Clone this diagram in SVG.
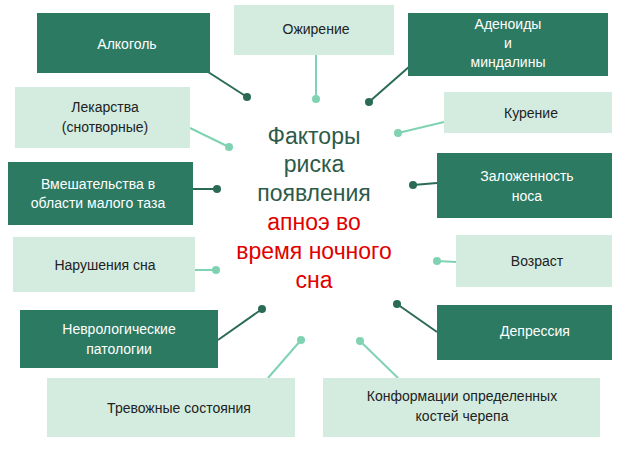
<svg xmlns="http://www.w3.org/2000/svg" width="628" height="449" viewBox="0 0 628 449">
<style>
.d{fill:#2c7a62}.l{fill:#d3ecdf}
.tw{fill:#fff;font-family:"Liberation Sans",sans-serif;font-size:14px;text-anchor:middle}
.tk{fill:#222;font-family:"Liberation Sans",sans-serif;font-size:14px;text-anchor:middle}
.cd{stroke:#2b6b56;stroke-width:2}.cl{stroke:#7fd3b2;stroke-width:2}
.pd{fill:#2b6b56}.pl{fill:#7fd3b2}
.c{font-family:"Liberation Sans",sans-serif;font-size:23px;text-anchor:middle}
</style>
<rect width="628" height="449" fill="#fff"/>
<g id="connectors">
<line class="cd" x1="205" y1="70" x2="247" y2="97"/><circle class="pd" cx="247" cy="97" r="4"/>
<line class="cl" x1="316" y1="55" x2="316" y2="99"/><circle class="pl" cx="316" cy="99" r="4"/>
<line class="cd" x1="410" y1="66" x2="369" y2="102"/><circle class="pd" cx="369" cy="102" r="4"/>
<line class="cl" x1="190" y1="128" x2="229" y2="147"/><circle class="pl" cx="229" cy="147" r="4"/>
<line class="cl" x1="444" y1="122" x2="398" y2="133"/><circle class="pl" cx="398" cy="133" r="4"/>
<line class="cd" x1="193" y1="189" x2="217" y2="189"/><circle class="pd" cx="217" cy="189" r="4"/>
<line class="cd" x1="437" y1="183" x2="413" y2="185"/><circle class="pd" cx="413" cy="185" r="4"/>
<line class="cl" x1="195" y1="270" x2="216" y2="270"/><circle class="pl" cx="216" cy="270" r="4"/>
<line class="cl" x1="456" y1="262" x2="437" y2="261"/><circle class="pl" cx="437" cy="261" r="4"/>
<line class="cd" x1="218" y1="340" x2="262" y2="309"/><circle class="pd" cx="262" cy="309" r="4"/>
<line class="cd" x1="437" y1="332" x2="397" y2="304"/><circle class="pd" cx="397" cy="304" r="4"/>
<line class="cl" x1="268" y1="378" x2="301" y2="340"/><circle class="pl" cx="301" cy="340" r="4"/>
<line class="cl" x1="398" y1="378" x2="360" y2="341"/><circle class="pl" cx="360" cy="341" r="4"/>
</g>
<g id="n1"><rect class="d" x="37" y="13" width="173" height="60"/><text class="tw" x="127" y="49">Алкоголь</text></g>
<g id="n2"><rect class="l" x="234" y="5" width="160" height="50"/><text class="tk" x="316" y="34">Ожирение</text></g>
<g id="n3"><rect class="d" x="408" y="13" width="200" height="63"/><text class="tw" x="508" y="29">Аденоиды</text><text class="tw" x="508" y="48">и</text><text class="tw" x="508" y="67">миндалины</text></g>
<g id="n4"><rect class="l" x="15" y="87" width="175" height="61"/><text class="tk" x="105" y="112">Лекарства</text><text class="tk" x="105" y="132">(снотворные)</text></g>
<g id="n5"><rect class="l" x="444" y="92" width="168" height="41"/><text class="tk" x="531" y="118">Курение</text></g>
<g id="n6"><rect class="d" x="8" y="162" width="185" height="63"/><text class="tw" x="98" y="189">Вмешательства в</text><text class="tw" x="98" y="208">области малого таза</text></g>
<g id="n7"><rect class="d" x="437" y="153" width="175" height="65"/><text class="tw" x="527" y="181">Заложенность</text><text class="tw" x="527" y="201">носа</text></g>
<g id="n8"><rect class="l" x="13" y="237" width="182" height="55"/><text class="tk" x="105" y="270">Нарушения сна</text></g>
<g id="n9"><rect class="l" x="456" y="235" width="156" height="52"/><text class="tk" x="537" y="266">Возраст</text></g>
<g id="n10"><rect class="d" x="20" y="310" width="198" height="58"/><text class="tw" x="119" y="334">Неврологические</text><text class="tw" x="119" y="354">патологии</text></g>
<g id="n11"><rect class="d" x="437" y="305" width="175" height="55"/><text class="tw" x="535" y="336">Депрессия</text></g>
<g id="n12"><rect class="l" x="47" y="378" width="248" height="59"/><text class="tk" x="179" y="413">Тревожные состояния</text></g>
<g id="n13"><rect class="l" x="323" y="378" width="277" height="59"/><text class="tk" x="462" y="401">Конформации определенных</text><text class="tk" x="462" y="421">костей черепа</text></g>
<g id="center">
<text class="c" fill="#2d5a4a" x="314" y="144">Факторы</text>
<text class="c" fill="#2d5a4a" x="314" y="172">риска</text>
<text class="c" fill="#2d5a4a" x="314" y="201">появления</text>
<text class="c" fill="#e00000" x="314" y="230">апноэ во</text>
<text class="c" fill="#e00000" x="314" y="259">время ночного</text>
<text class="c" fill="#e00000" x="314" y="288">сна</text>
</g>
</svg>
